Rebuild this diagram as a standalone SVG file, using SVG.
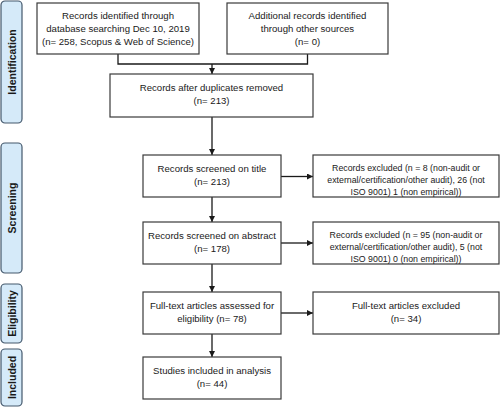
<svg xmlns="http://www.w3.org/2000/svg" width="500" height="407" viewBox="0 0 500 407">
<defs>
<marker id="ah" viewBox="0 0 10 10" refX="10" refY="5" markerWidth="6" markerHeight="6" markerUnits="userSpaceOnUse" orient="auto"><path d="M0,0 L10,5 L0,10 z" fill="#1a1a1a"/></marker>
<style>
.box{fill:#fff;stroke:#3a3a3a;stroke-width:1.2}
.phase{fill:#d5eaf9;stroke:#44586c;stroke-width:1.2}
.t{font-family:"Liberation Sans",Arial,sans-serif;font-size:9.6px;fill:#1a1a1a;text-anchor:middle}
.s{font-size:8.8px}
.p{font-family:"Liberation Sans",Arial,sans-serif;font-size:10.5px;font-weight:bold;fill:#1a1a1a;text-anchor:middle}
.c{fill:none;stroke:#1a1a1a;stroke-width:1.3}
</style>
</defs>
<rect width="500" height="407" fill="#fff"/>
<g id="phase-identification"><rect class="phase" x="1" y="1" width="21" height="122" rx="4"/><text class="p" transform="translate(15.5,62) rotate(-90)">Identification</text></g>
<g id="phase-screening"><rect class="phase" x="1" y="143" width="21" height="130" rx="4"/><text class="p" transform="translate(15.5,208) rotate(-90)">Screening</text></g>
<g id="phase-eligibility"><rect class="phase" x="1" y="284" width="21" height="59" rx="4"/><text class="p" transform="translate(15.5,313.5) rotate(-90)">Eligibility</text></g>
<g id="phase-included"><rect class="phase" x="1" y="349" width="21" height="57" rx="4"/><text class="p" transform="translate(15.5,377.5) rotate(-90)">Included</text></g>

<g id="connectors">
<path class="c" d="M118,54 V64 H307.5 V54"/>
<path class="c" d="M212,64 V74" marker-end="url(#ah)"/>
<path class="c" d="M212,117 V155" marker-end="url(#ah)"/>
<path class="c" d="M212,197 V222" marker-end="url(#ah)"/>
<path class="c" d="M212,264 V292" marker-end="url(#ah)"/>
<path class="c" d="M212,334 V357" marker-end="url(#ah)"/>
<path class="c" d="M281,176.5 H313" marker-end="url(#ah)"/>
<path class="c" d="M281,243 H313" marker-end="url(#ah)"/>
<path class="c" d="M281,313 H313" marker-end="url(#ah)"/>
</g>

<g id="n1"><rect class="box" x="37" y="3" width="162" height="51"/>
<text class="t" x="118" y="19">Records identified through</text>
<text class="t" x="118" y="32">database searching Dec 10, 2019</text>
<text class="t" x="118" y="45">(n= 258, Scopus &amp; Web of Science)</text></g>
<g id="n2"><rect class="box" x="227" y="3" width="161" height="51"/>
<text class="t" x="307.5" y="19">Additional records identified</text>
<text class="t" x="307.5" y="32">through other sources</text>
<text class="t" x="307.5" y="45">(n= 0)</text></g>
<g id="n3"><rect class="box" x="110" y="74" width="203" height="43"/>
<text class="t" x="211.5" y="91">Records after duplicates removed</text>
<text class="t" x="211.5" y="104">(n= 213)</text></g>
<g id="n4"><rect class="box" x="143" y="155" width="138" height="42"/>
<text class="t" x="212" y="172">Records screened on title</text>
<text class="t" x="212" y="185">(n= 213)</text></g>
<g id="n5"><rect class="box" x="313" y="155" width="186" height="42"/>
<text class="t s" x="406" y="171">Records excluded (n = 8 (non-audit or</text>
<text class="t s" x="406" y="183">external/certification/other audit), 26 (not</text>
<text class="t s" x="406" y="195">ISO 9001) 1 (non empirical))</text></g>
<g id="n6"><rect class="box" x="143" y="222" width="138" height="42"/>
<text class="t" x="212" y="239">Records screened on abstract</text>
<text class="t" x="212" y="252">(n= 178)</text></g>
<g id="n7"><rect class="box" x="313" y="222" width="186" height="42"/>
<text class="t s" x="406" y="238">Records excluded (n = 95 (non-audit or</text>
<text class="t s" x="406" y="250">external/certification/other audit), 5 (not</text>
<text class="t s" x="406" y="262">ISO 9001) 0 (non empirical))</text></g>
<g id="n8"><rect class="box" x="143" y="292" width="138" height="42"/>
<text class="t" x="212" y="309">Full-text articles assessed for</text>
<text class="t" x="212" y="322">eligibility (n= 78)</text></g>
<g id="n9"><rect class="box" x="313" y="292" width="186" height="42"/>
<text class="t" x="406" y="309">Full-text articles excluded</text>
<text class="t" x="406" y="322">(n= 34)</text></g>
<g id="n10"><rect class="box" x="143" y="357" width="138" height="42"/>
<text class="t" x="212" y="374">Studies included in analysis</text>
<text class="t" x="212" y="387">(n= 44)</text></g>
</svg>
